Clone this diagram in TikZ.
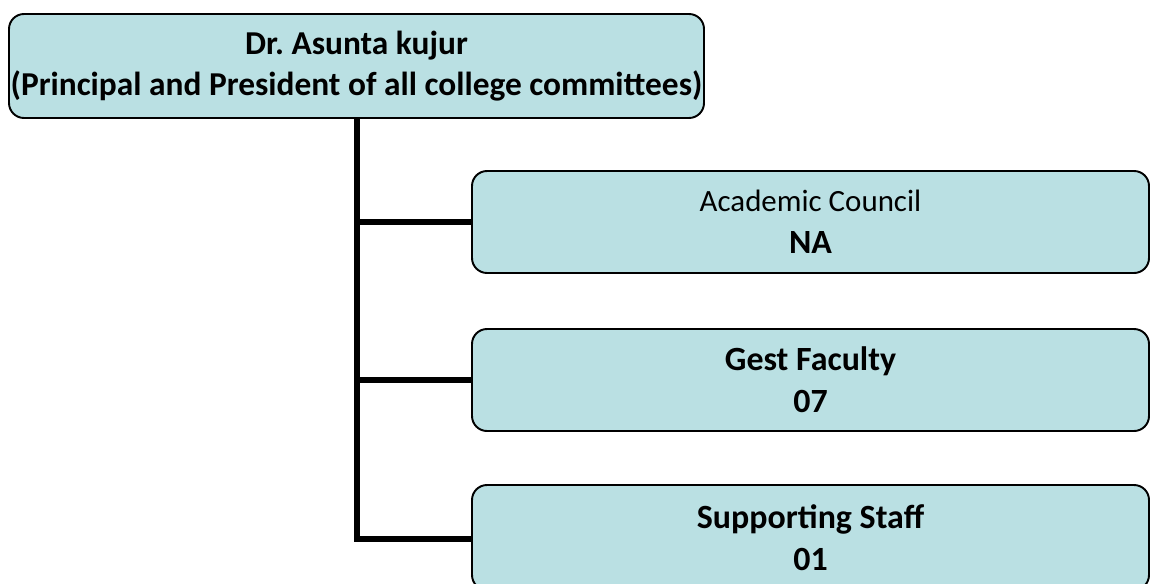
\documentclass[tikz,border=0pt]{standalone}
\usepackage{fontspec}
\setmainfont{Carlito}
\usetikzlibrary{positioning}

\definecolor{boxfill}{RGB}{186,224,227}

\tikzset{
  orgbox/.style={draw=black, line width=1.1pt, fill=boxfill, rounded corners=0.3cm,
    align=center, inner sep=0pt},
  headbox/.style={orgbox, minimum width=13.9cm, minimum height=2.08cm,
    font=\fontsize{19}{23}\selectfont\bfseries},
  unitbox/.style={orgbox, minimum width=13.54cm, minimum height=2.04cm,
    font=\fontsize{19.3}{23.8}\selectfont\bfseries},
  trunk/.style={line width=0.12cm}
}

\begin{document}
\begin{tikzpicture}
  \useasboundingbox (0,0) rectangle (23.04,-11.66);
  \begin{scope}
    \clip (0,0) rectangle (23.04,-11.66);
    % head of the committee
    \node[headbox] (head) at (7.13,-1.32)
      {Dr.\ Asunta kujur\\ (Principal and President of all college committees)};
    % units
    \node[unitbox] (acad) at (16.21,-4.44)
      {{\fontsize{17.6}{23.8}\selectfont\mdseries Academic Council}\\ NA};
    \node[unitbox] (gest) at (16.21,-7.6)
      {Gest Faculty\\ 07};
    \node[unitbox, minimum height=2.1cm] (supp) at (16.21,-10.75)
      {Supporting Staff\\ 01};
    % connectors
    \draw[trunk] (head.south) |- ([yshift=-0.02cm]supp.west);
    \foreach \n in {acad,gest}
      \draw[trunk] (head.south |- \n.west) -- (\n.west);
  \end{scope}
\end{tikzpicture}
\end{document}
